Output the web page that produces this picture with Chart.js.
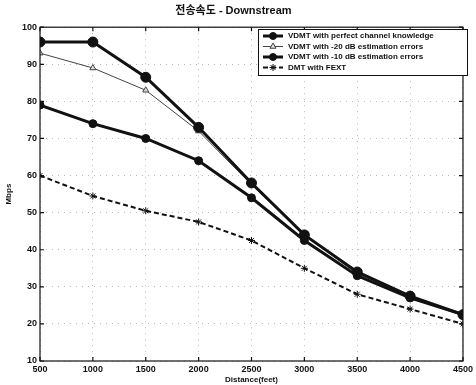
<!DOCTYPE html>
<html>
<head>
<meta charset="utf-8">
<script src="https://cdn.jsdelivr.net/npm/chart.js@4"></script>
<style>
  html, body { margin: 0; padding: 0; background: #fff; }
  #wrap { width: 476px; height: 385px; }
</style>
</head>
<body>
<div id="wrap"><canvas id="chart" width="476" height="385"></canvas></div>
<script>
// ---------- Data ----------
const DISTANCES = [500, 1000, 1500, 2000, 2500, 3000, 3500, 4000, 4500];
const PERFECT = [96, 96, 86.5, 73, 58, 44, 34, 27.5, 22.5];
const EST_20DB = [93, 89, 83, 72, 57.5, 44, 33.5, 27.5, 22.5];
const EST_10DB = [79, 74, 70, 64, 54, 42.5, 33, 27, 22.5];
const DMT_FEXT = [60, 54.5, 50.5, 47.5, 42.5, 35, 28, 24, 20];

const X_TICKS = [500, 1000, 1500, 2000, 2500, 3000, 3500, 4000, 4500];
const Y_TICKS = [10, 20, 30, 40, 50, 60, 70, 80, 90, 100];

const LABELS = [
  'VDMT with perfect channel knowledge',
  'VDMT with -20 dB estimation errors',
  'VDMT with -10 dB estimation errors',
  'DMT with FEXT'
];

const INK = '#111';
const font = { family: 'Liberation Sans, Arial', size: 9, weight: 'bold' };

const toXY = (vals) => vals.map((v, i) => ({ x: DISTANCES[i], y: v }));

// ---------- Legend drawn inside the plot (top right) ----------
const insideLegend = {
  id: 'insideLegend',
  afterDraw(chart) {
    const ctx = chart.ctx;
    const x0 = 258, y0 = 29, w = 209, h = 46;
    ctx.save();
    ctx.fillStyle = '#fff';
    ctx.fillRect(x0, y0, w, h);
    ctx.strokeStyle = INK;
    ctx.lineWidth = 1;
    ctx.strokeRect(x0 + 0.5, y0 + 0.5, w, h);
    ctx.font = 'bold 8px Liberation Sans, Arial';
    ctx.textBaseline = 'middle';
    chart.data.datasets.forEach((ds, i) => {
      const y = y0 + 7 + i * 10.5;
      ctx.strokeStyle = ds.borderColor;
      ctx.lineWidth = ds.borderWidth;
      ctx.setLineDash(ds.borderDash || []);
      ctx.beginPath();
      ctx.moveTo(x0 + 5, y);
      ctx.lineTo(x0 + 25, y);
      ctx.stroke();
      ctx.setLineDash([]);
      ctx.fillStyle = ds.backgroundColor;
      ctx.strokeStyle = ds.borderColor;
      ctx.lineWidth = 1;
      Chart.helpers.drawPoint(ctx, {
        pointStyle: ds.pointStyle,
        radius: Math.min(ds.pointRadius, 3.5),
        borderWidth: 1
      }, x0 + 15, y);
      ctx.fillStyle = INK;
      ctx.fillText(ds.label, x0 + 30, y);
    });
    ctx.restore();
  }
};

// ---------- Inward tick marks + frame (matlab look) ----------
const frame = {
  id: 'frame',
  afterDatasetsDraw(chart) {
    const { ctx, chartArea: a, scales } = chart;
    ctx.save();
    ctx.strokeStyle = INK;
    ctx.lineWidth = 1.2;
    ctx.strokeRect(a.left, a.top, a.right - a.left, a.bottom - a.top);
    ctx.beginPath();
    X_TICKS.forEach(t => {
      const x = scales.x.getPixelForValue(t);
      ctx.moveTo(x, a.bottom); ctx.lineTo(x, a.bottom - 4);
      ctx.moveTo(x, a.top); ctx.lineTo(x, a.top + 4);
    });
    Y_TICKS.forEach(t => {
      const y = scales.y.getPixelForValue(t);
      ctx.moveTo(a.left, y); ctx.lineTo(a.left + 4, y);
      ctx.moveTo(a.right, y); ctx.lineTo(a.right - 4, y);
    });
    ctx.stroke();
    ctx.restore();
  }
};

new Chart(document.getElementById('chart'), {
  type: 'line',
  data: {
    datasets: [
      {
        label: LABELS[0], data: toXY(PERFECT),
        borderColor: INK, backgroundColor: INK, borderWidth: 3,
        pointStyle: 'circle', pointRadius: 5, pointBorderWidth: 1
      },
      {
        label: LABELS[1], data: toXY(EST_20DB),
        borderColor: '#444', backgroundColor: '#ddd', borderWidth: 1,
        pointStyle: 'triangle', pointRadius: 3.5, pointBorderWidth: 1
      },
      {
        label: LABELS[2], data: toXY(EST_10DB),
        borderColor: INK, backgroundColor: INK, borderWidth: 3,
        pointStyle: 'circle', pointRadius: 4, pointBorderWidth: 1
      },
      {
        label: LABELS[3], data: toXY(DMT_FEXT),
        borderColor: INK, backgroundColor: INK, borderWidth: 2, borderDash: [5, 3],
        pointStyle: 'star', pointRadius: 3.5, pointBorderWidth: 1
      }
    ]
  },
  options: {
    responsive: false,
    animation: false,
    layout: { padding: { right: 9, top: 0 } },
    plugins: {
      legend: { display: false },
      tooltip: { enabled: false },
      title: {
        display: true,
        text: '전송속도 - Downstream',
        color: INK,
        font: { family: 'Liberation Sans, Noto Sans CJK KR, Arial', size: 11, weight: 'bold' },
        padding: { top: 4, bottom: 10 }
      }
    },
    scales: {
      x: {
        type: 'linear', min: 500, max: 4500,
        afterBuildTicks: (s) => { s.ticks = X_TICKS.map(v => ({ value: v })); },
        afterFit: (s) => { s.height = 24; },
        grid: { color: '#bbb', drawTicks: false },
        border: { display: false, dash: [1, 5] },
        ticks: { color: INK, font, padding: 3, maxRotation: 0, callback: (v) => String(v) },
        title: { display: true, text: 'Distance(feet)', color: INK, font: { ...font, size: 8 }, padding: 0 }
      },
      y: {
        min: 10, max: 100,
        afterBuildTicks: (s) => { s.ticks = Y_TICKS.map(v => ({ value: v })); },
        afterFit: (s) => { s.width = 40; },
        grid: { color: '#bbb', drawTicks: false },
        border: { display: false, dash: [1, 5] },
        ticks: { color: INK, font, padding: 3, callback: (v) => String(v) },
        title: { display: true, text: 'Mbps', color: INK, font: { ...font, size: 8 }, padding: 4 }
      }
    }
  },
  plugins: [frame, insideLegend]
});
</script>
</body>
</html>
